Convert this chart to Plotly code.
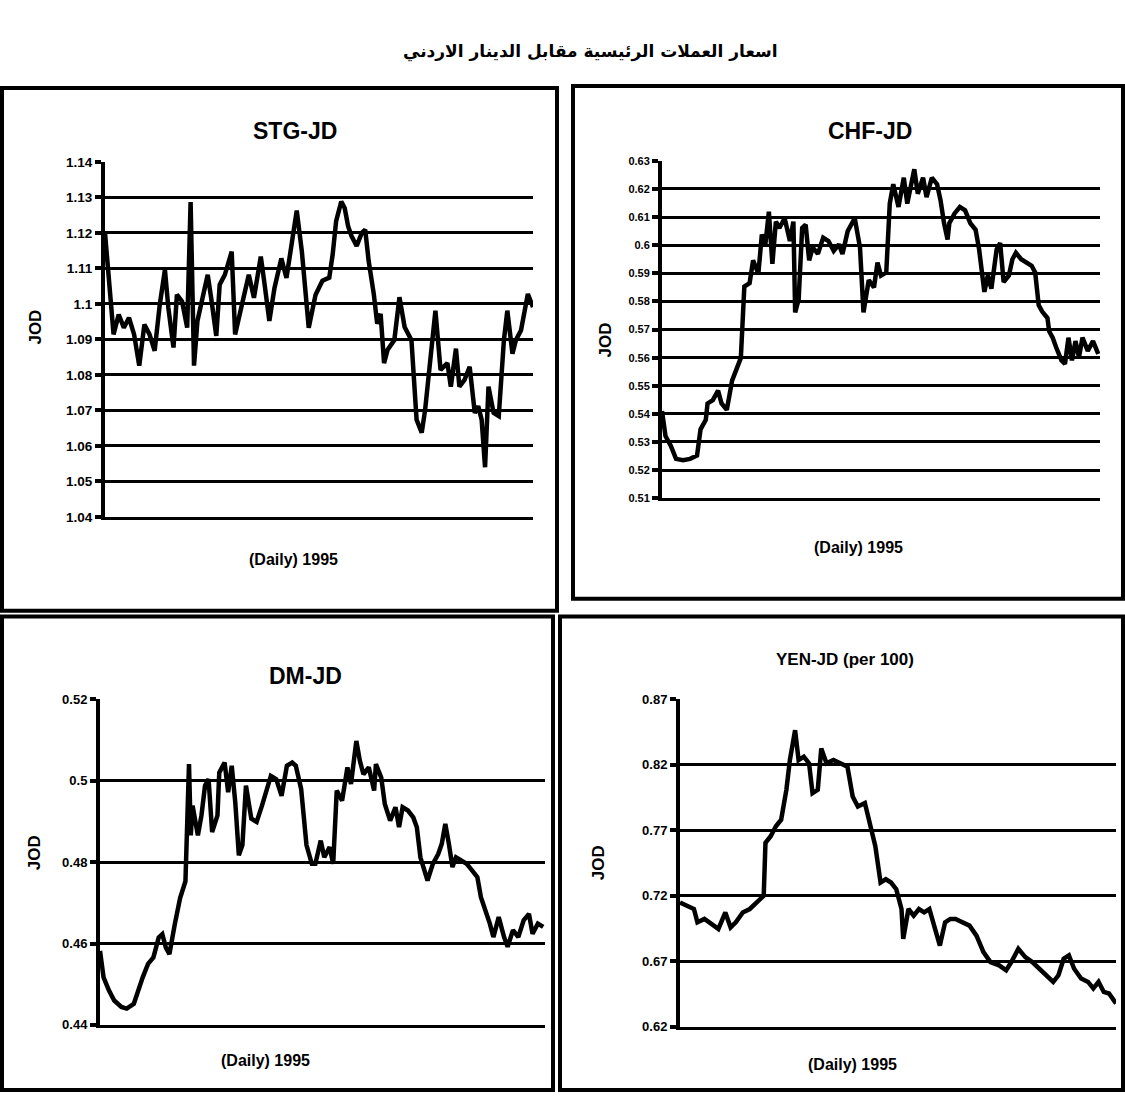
import plotly.graph_objects as go

W, H = 1125, 1100

# ---------------- data ----------------
stg_days = [0, 3, 5, 8, 11, 14, 17, 20, 23, 26, 29, 32, 35, 37, 40, 42, 45, 48, 50, 52,
            54, 57, 60, 62, 65, 67, 70, 74, 76, 80, 84, 87, 91, 93, 96, 99, 103, 106, 109, 112,
            115, 119, 123, 127, 131, 133, 135, 138, 140, 142, 144, 147, 150, 152, 154, 157, 159, 161, 163, 165,
            169, 172, 175, 179, 182, 185, 187, 190, 193, 196, 200, 202, 205, 207, 210, 213, 216, 218, 220, 222,
            224, 227, 230, 233, 235, 238, 240, 243, 247, 250]
stg_vals = [1.1200, 1.1045, 1.0914, 1.0970, 1.0933, 1.0961, 1.0914, 1.0826, 1.0942, 1.0914,
            1.0868, 1.0998, 1.1096, 1.0989, 1.0877, 1.1026, 1.1007, 1.0933, 1.1287, 1.0826,
            1.0952, 1.1017, 1.1082, 1.1017, 1.0910, 1.1054, 1.1082, 1.1147, 1.0914, 1.0998,
            1.1082, 1.1017, 1.1133, 1.1063, 1.0952, 1.1045, 1.1128, 1.1073, 1.1175, 1.1263,
            1.1147, 1.0933, 1.1026, 1.1065, 1.1074, 1.1140, 1.1233, 1.1288, 1.1270, 1.1219,
            1.1191, 1.1163, 1.1200, 1.1209, 1.1121, 1.1028, 1.0944, 1.0972, 1.0833, 1.0870,
            1.0898, 1.1019, 1.0935, 1.0898, 1.0674, 1.0637, 1.0702, 1.0842, 1.0981, 1.0814,
            1.0833, 1.0767, 1.0874, 1.0767, 1.0786, 1.0823, 1.0693, 1.0712, 1.0674, 1.0540,
            1.0767, 1.0693, 1.0684, 1.0898, 1.0981, 1.0860, 1.0898, 1.0926, 1.1028, 1.0991]

chf_days = [0, 2, 5, 8, 12, 16, 20, 22, 25, 26, 29, 32, 34, 37, 40, 43, 45, 47, 50, 52,
            55, 57, 59, 61, 63, 65, 67, 70, 73, 75, 76, 78, 80, 82, 84, 86, 89, 92, 95, 98,
            101, 103, 106, 110, 113, 115, 118, 121, 123, 125, 128, 130, 132, 135, 138, 140, 143, 144, 146, 149,
            151, 154, 157, 159, 161, 163, 164, 167, 170, 173, 176, 179, 181, 182, 184, 186, 188, 191, 193, 195,
            198, 200, 202, 205, 208, 211, 213, 215, 217, 220, 221, 223, 225, 228, 230, 232, 234, 236, 238, 240,
            243, 246, 249]
chf_vals = [0.5410, 0.5321, 0.5287, 0.5240, 0.5235, 0.5240, 0.5252, 0.5345, 0.5379, 0.5437,
            0.5449, 0.5483, 0.5437, 0.5414, 0.5518, 0.5564, 0.5599, 0.5853, 0.5865, 0.5946,
            0.5899, 0.6038, 0.6003, 0.6119, 0.5934, 0.6084, 0.6061, 0.6096, 0.6015, 0.6084,
            0.5761, 0.5807, 0.6061, 0.6073, 0.5946, 0.5992, 0.5969, 0.6027, 0.6015, 0.5980,
            0.6003, 0.5969, 0.6050, 0.6096, 0.5992, 0.5761, 0.5876, 0.5850, 0.5938, 0.5892,
            0.5903, 0.6148, 0.6217, 0.6136, 0.6240, 0.6148, 0.6252, 0.6270, 0.6183, 0.6240,
            0.6171, 0.6240, 0.6217, 0.6159, 0.6078, 0.6020, 0.6078, 0.6113, 0.6136, 0.6124,
            0.6078, 0.6055, 0.5985, 0.5938, 0.5834, 0.5892, 0.5845, 0.5985, 0.6008, 0.5869,
            0.5892, 0.5950, 0.5973, 0.5950, 0.5938, 0.5927, 0.5903, 0.5787, 0.5764, 0.5741,
            0.5694, 0.5671, 0.5636, 0.5590, 0.5578, 0.5671, 0.5590, 0.5659, 0.5601, 0.5671,
            0.5624, 0.5659, 0.5613]

dm_days = [0, 2, 5, 8, 12, 15, 19, 22, 24, 27, 30, 33, 35, 37, 39, 42, 45, 48, 49, 50,
           51, 52, 55, 57, 59, 61, 63, 66, 67, 70, 72, 74, 76, 78, 80, 82, 85, 88, 91, 94,
           96, 99, 102, 105, 108, 110, 113, 116, 119, 121, 124, 126, 129, 131, 133, 136, 139, 141, 144, 146,
           148, 151, 154, 155, 158, 160, 163, 166, 168, 170, 173, 176, 178, 180, 183, 184, 187, 190, 192, 194,
           196, 198, 200, 203, 206, 209, 212, 214, 216, 219, 221, 224, 227, 229, 232, 235, 238, 241, 243, 246,
           249]
dm_vals = [0.4582, 0.4517, 0.4485, 0.4460, 0.4444, 0.4440, 0.4452, 0.4493, 0.4517, 0.4550,
           0.4566, 0.4615, 0.4623, 0.4590, 0.4574, 0.4647, 0.4712, 0.4753, 0.4890, 0.5041,
           0.4866, 0.4939, 0.4866, 0.4915, 0.4988, 0.5004, 0.4874, 0.4915, 0.5020, 0.5045,
           0.4972, 0.5037, 0.4947, 0.4817, 0.4842, 0.4988, 0.4907, 0.4899, 0.4939, 0.4980,
           0.5012, 0.5004, 0.4963, 0.5037, 0.5045, 0.5037, 0.4980, 0.4842, 0.4796, 0.4796,
           0.4853, 0.4812, 0.4837, 0.4796, 0.4976, 0.4951, 0.5033, 0.4992, 0.5098, 0.5049,
           0.5016, 0.5033, 0.4976, 0.5041, 0.5008, 0.4943, 0.4902, 0.4935, 0.4886, 0.4935,
           0.4927, 0.4910, 0.4886, 0.4812, 0.4771, 0.4755, 0.4796, 0.4820, 0.4845, 0.4894,
           0.4845, 0.4788, 0.4812, 0.4804, 0.4796, 0.4780, 0.4763, 0.4714, 0.4690, 0.4649,
           0.4616, 0.4665, 0.4616, 0.4592, 0.4633, 0.4616, 0.4657, 0.4673, 0.4624, 0.4649,
           0.4641]

yen_days = [0, 4, 8, 10, 14, 18, 22, 26, 29, 32, 36, 40, 44, 48, 49, 52, 55, 58, 61, 63,
            66, 68, 71, 74, 76, 79, 81, 84, 88, 92, 96, 99, 102, 106, 109, 112, 115, 118, 121, 124,
            127, 128, 131, 134, 137, 140, 143, 146, 149, 152, 155, 158, 162, 166, 170, 174, 178, 183, 187, 190,
            194, 198, 202, 206, 210, 214, 217, 220, 223, 226, 230, 234, 237, 240, 243, 246, 250]
yen_vals = [0.7150, 0.7125, 0.7100, 0.6998, 0.7024, 0.6986, 0.6948, 0.7074, 0.6960, 0.6998,
            0.7074, 0.7100, 0.7150, 0.7201, 0.7605, 0.7656, 0.7732, 0.7782, 0.8010, 0.8237,
            0.8465, 0.8237, 0.8263, 0.8212, 0.7984, 0.8010, 0.8326, 0.8212, 0.8237, 0.8212,
            0.8187, 0.7959, 0.7883, 0.7909, 0.7757, 0.7580, 0.7302, 0.7327, 0.7302, 0.7251,
            0.7100, 0.6872, 0.7100, 0.7049, 0.7100, 0.7074, 0.7100, 0.6973, 0.6821, 0.6998,
            0.7024, 0.7024, 0.6998, 0.6973, 0.6897, 0.6771, 0.6695, 0.6670, 0.6632, 0.6695,
            0.6796, 0.6733, 0.6695, 0.6644, 0.6594, 0.6543, 0.6594, 0.6720, 0.6746, 0.6644,
            0.6569, 0.6543, 0.6493, 0.6543, 0.6467, 0.6455, 0.6379]

stg_ticks = [1.04, 1.05, 1.06, 1.07, 1.08, 1.09, 1.10, 1.11, 1.12, 1.13, 1.14]
stg_ticktext = ["1.04", "1.05", "1.06", "1.07", "1.08", "1.09", "1.1", "1.11", "1.12", "1.13", "1.14"]
chf_ticks = [0.51, 0.52, 0.53, 0.54, 0.55, 0.56, 0.57, 0.58, 0.59, 0.60, 0.61, 0.62, 0.63]
chf_ticktext = ["0.51", "0.52", "0.53", "0.54", "0.55", "0.56", "0.57", "0.58", "0.59", "0.6", "0.61", "0.62", "0.63"]
dm_ticks = [0.44, 0.46, 0.48, 0.50, 0.52]
dm_ticktext = ["0.44", "0.46", "0.48", "0.5", "0.52"]
yen_ticks = [0.62, 0.67, 0.72, 0.77, 0.82, 0.87]
yen_ticktext = ["0.62", "0.67", "0.72", "0.77", "0.82", "0.87"]

main_title = "اسعار العملات الرئيسية مقابل الدينار الاردني"
panel_titles = ["STG-JD", "CHF-JD", "DM-JD", "YEN-JD (per 100)"]
x_title = "(Daily) 1995"
y_title = "JOD"

# ---------------- layout geometry (pixels) ----------------
panels = [
    dict(days=stg_days, vals=stg_vals, ticks=stg_ticks, tt=stg_ticktext,
         px=(105, 533), py=(157, 517), title_xy=(295, 126), tsize=23,
         xt_xy=(293, 560), yt_xy=(36, 325), tfs=13.5),
    dict(days=chf_days, vals=chf_vals, ticks=chf_ticks, tt=chf_ticktext,
         px=(662, 1100), py=(156, 498), title_xy=(870, 126), tsize=23,
         xt_xy=(858, 548), yt_xy=(605, 338), tfs=11),
    dict(days=dm_days, vals=dm_vals, ticks=dm_ticks, tt=dm_ticktext,
         px=(100, 545), py=(702, 1032), title_xy=(305, 678), tsize=23,
         xt_xy=(265, 1068), yt_xy=(34, 858), tfs=13),
    dict(days=yen_days, vals=yen_vals, ticks=yen_ticks, tt=yen_ticktext,
         px=(680, 1116), py=(702, 1034), title_xy=(845, 662), tsize=17,
         xt_xy=(852, 1072), yt_xy=(598, 868), tfs=13),
]

boxes = [(2, 82, 557, 612), (573, 80, 1123, 600), (2, 618, 553, 1098), (560, 618, 1123, 1098)]

FONT = "Liberation Sans"
fig = go.Figure()
annotations = []
layout_axes = {}

for i, p in enumerate(panels, start=1):
    xa = "x" if i == 1 else f"x{i}"
    ya = "y" if i == 1 else f"y{i}"
    fig.add_trace(go.Scatter(x=p["days"], y=p["vals"], mode="lines",
                             line=dict(color="black", width=4.5),
                             xaxis=xa, yaxis=ya, showlegend=False, hoverinfo="skip"))
    x0, x1 = p["px"]
    ytop, ybot = p["py"]
    layout_axes["xaxis" if i == 1 else f"xaxis{i}"] = dict(
        domain=[x0 / W, x1 / W], range=[0, 250], anchor=ya,
        showticklabels=False, showgrid=False, zeroline=False,
        showline=True, linecolor="black", linewidth=2.5, ticks="")
    layout_axes["yaxis" if i == 1 else f"yaxis{i}"] = dict(
        domain=[1 - ybot / H, 1 - ytop / H], range=[p["ticks"][0], p["ticks"][-1]],
        anchor=xa, tickvals=p["ticks"], ticktext=p["tt"],
        showgrid=True, gridcolor="black", gridwidth=2.5, zeroline=False,
        showline=True, linecolor="black", linewidth=4,
        ticks="outside", ticklen=6, tickwidth=3.5, tickcolor="black",
        tickfont=dict(family=FONT, size=p["tfs"], color="black", weight="bold"))
    tx, ty = p["title_xy"]
    annotations.append(dict(text=panel_titles[i - 1], x=tx / W, y=1 - ty / H, xref="paper", yref="paper",
                            showarrow=False, xanchor="center", yanchor="middle",
                            font=dict(family=FONT, size=p["tsize"], color="black", weight="bold")))
    xx, xy = p["xt_xy"]
    annotations.append(dict(text=x_title, x=xx / W, y=1 - xy / H, xref="paper", yref="paper",
                            showarrow=False, xanchor="center", yanchor="middle",
                            font=dict(family=FONT, size=16, color="black", weight="bold")))
    yx, yy = p["yt_xy"]
    annotations.append(dict(text=y_title, x=yx / W, y=1 - yy / H, xref="paper", yref="paper",
                            showarrow=False, xanchor="center", yanchor="middle", textangle=-90,
                            font=dict(family=FONT, size=17, color="black", weight="bold")))

annotations.append(dict(text=main_title, x=590 / W, y=1 - 45 / H, xref="paper", yref="paper",
                        showarrow=False, xanchor="center", yanchor="middle",
                        font=dict(family="DejaVu Sans", size=17, color="black", weight="bold")))

shapes = [dict(type="rect", xref="paper", yref="paper", x0=b[0] / W, x1=b[2] / W,
               y0=1 - b[3] / H, y1=1 - b[1] / H, line=dict(color="black", width=4))
          for b in boxes]

fig.update_layout(width=W, height=H, margin=dict(l=0, r=0, t=0, b=0),
                  paper_bgcolor="white", plot_bgcolor="white",
                  annotations=annotations, shapes=shapes, **layout_axes)

fig.write_html("out.html", config={"displayModeBar": False},
               post_script="document.body.style.margin='0';")
